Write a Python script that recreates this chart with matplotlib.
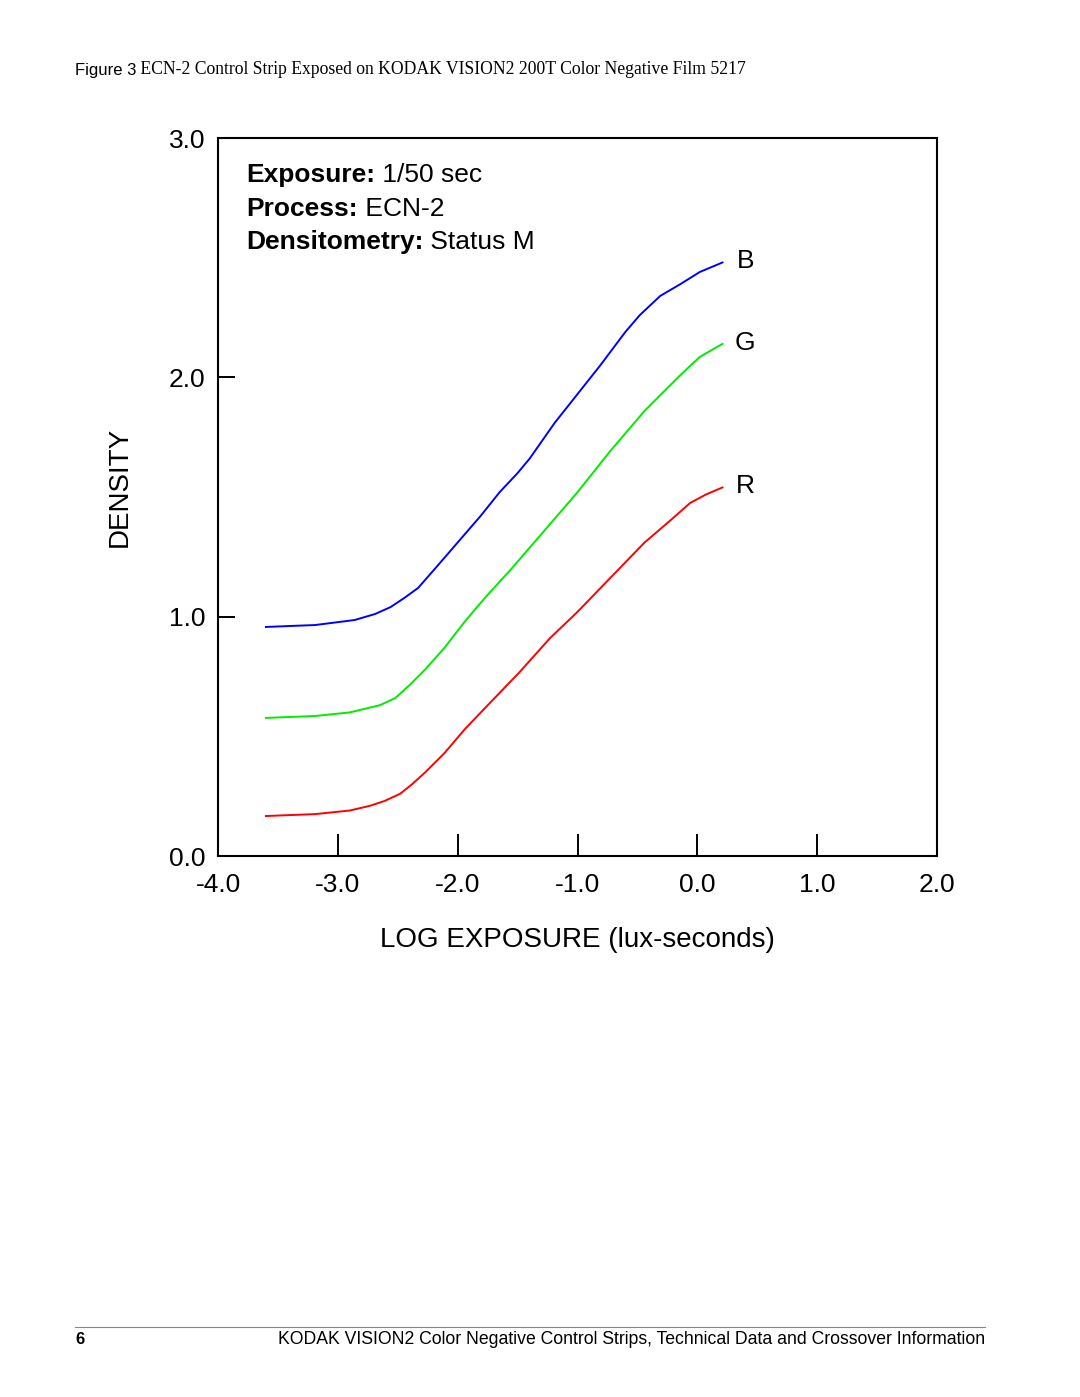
import matplotlib
matplotlib.use("Agg")
import matplotlib.pyplot as plt
from matplotlib.lines import Line2D

# ---- data ----
blue_x = [-3.6, -3.4, -3.19, -2.86, -2.69, -2.56, -2.44, -2.33, -2.19, -2.0, -1.81, -1.65, -1.50, -1.40,
          -1.19, -1.0, -0.81, -0.60, -0.48, -0.31, -0.14, 0.02, 0.21]
blue_y = [0.957, 0.961, 0.965, 0.986, 1.011, 1.04, 1.08, 1.12, 1.20, 1.31, 1.42, 1.52, 1.60, 1.66,
          1.81, 1.93, 2.05, 2.19, 2.26, 2.34, 2.39, 2.44, 2.48]
green_x = [-3.6, -3.19, -2.9, -2.65, -2.52, -2.40, -2.27, -2.11, -1.94, -1.77, -1.56, -1.31, -1.0,
           -0.73, -0.44, -0.14, 0.02, 0.21]
green_y = [0.577, 0.585, 0.60, 0.63, 0.66, 0.715, 0.78, 0.87, 0.98, 1.08, 1.195, 1.34, 1.52,
           1.69, 1.86, 2.01, 2.085, 2.14]
red_x = [-3.6, -3.4, -3.19, -2.9, -2.73, -2.61, -2.48, -2.38, -2.27, -2.11, -1.94, -1.73, -1.48,
         -1.23, -1.0, -0.73, -0.44, -0.23, -0.06, 0.07, 0.21]
red_y = [0.167, 0.171, 0.175, 0.19, 0.21, 0.23, 0.26, 0.30, 0.35, 0.43, 0.53, 0.64, 0.77,
         0.91, 1.02, 1.16, 1.31, 1.40, 1.475, 1.51, 1.54]
curve_labels = ["B", "G", "R"]
x_ticks = [-4, -3, -2, -1, 0, 1, 2]
x_ticklabels = ["-4.0", "-3.0", "-2.0", "-1.0", "0.0", "1.0", "2.0"]
y_ticks = [0, 1, 2, 3]
y_ticklabels = ["0.0", "1.0", "2.0", "3.0"]

plt.rcParams['font.family'] = ['Liberation Sans', 'DejaVu Sans']

fig = plt.figure(figsize=(10.8, 13.97), dpi=100)
ax = fig.add_axes([218/1080, 1-856/1397, (937-218)/1080, (856-138)/1397])

ax.plot(blue_x, blue_y, color=(0, 0, 1), lw=1.4, solid_joinstyle='round')
ax.plot(green_x, green_y, color=(0, 0.93, 0), lw=1.4, solid_joinstyle='round')
ax.plot(red_x, red_y, color=(1, 0, 0), lw=1.4, solid_joinstyle='round')

for lbl, yv in zip(curve_labels, [blue_y[-1], green_y[-1], red_y[-1]]):
    ax.text(0.4, yv + 0.005, lbl, fontsize=19, ha='center', va='center')

ax.set_xlim(-4, 2)
ax.set_ylim(0, 3)
ax.set_xticks(x_ticks)
ax.set_xticklabels(x_ticklabels, fontsize=19)
ax.set_yticks(y_ticks)
ax.set_yticklabels(y_ticklabels, fontsize=19)
ax.tick_params(axis='x', direction='in', length=16, width=1.4, pad=12)
ax.tick_params(axis='y', direction='in', length=12, width=1.4, pad=9)
for s in ax.spines.values():
    s.set_linewidth(1.5)

ax.set_xlabel("LOG EXPOSURE (lux-seconds)", fontsize=20, labelpad=22)
ax.set_ylabel("DENSITY", fontsize=20)
ax.yaxis.set_label_coords(-(218-133)/719, (856-487)/718)

# annotation block
rows = [("Exposure:", "1/50 sec"), ("Process:", "ECN-2"), ("Densitometry:", "Status M")]
ys = [175, 209, 242]
for (b, n), py in zip(rows, ys):
    t = fig.text(246/1080, 1-py/1397, b, fontsize=19, fontweight='bold', ha='left', va='center')
    ax.annotate(" " + n, xy=(1, 0), xycoords=t, fontsize=19, ha='left', va='bottom',
                annotation_clip=False)

# header
h = fig.text(75/1080, 1-70/1397, "Figure 3", fontsize=12, ha='left', va='center')
ax.annotate(" ECN-2 Control Strip Exposed on KODAK VISION2 200T Color Negative Film 5217",
            xy=(1, 0), xycoords=h, fontsize=12.7, ha='left', va='bottom',
            family=['Liberation Serif', 'DejaVu Serif'], annotation_clip=False)

# footer
fig.add_artist(Line2D([75/1080, 985/1080], [1-1327/1397, 1-1327/1397], color='#888888', lw=0.8))
fig.text(75/1080, 1-1340/1397, "6", fontsize=12, fontweight='bold', ha='left', va='center')
fig.text(985/1080, 1-1340/1397,
         "KODAK VISION2 Color Negative Control Strips, Technical Data and Crossover Information",
         fontsize=12.7, ha='right', va='center')

fig.savefig("out.png", dpi=100)
